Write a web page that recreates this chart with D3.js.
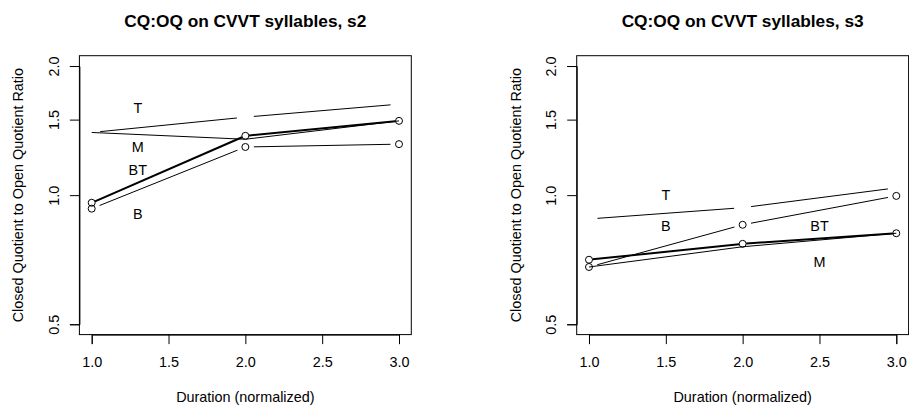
<!DOCTYPE html>
<html>
<head>
<meta charset="utf-8">
<script src="https://cdn.jsdelivr.net/npm/d3@7"></script>
<style>
  html, body { margin: 0; padding: 0; background: #fff; }
  svg { display: block; font-family: "Liberation Sans", Arial, Helvetica, sans-serif; }
</style>
</head>
<body>
<svg id="chart" width="909" height="405"></svg>
<script>
// durations on the x axis
const durations = [1, 2, 3];
const seriesNames = ["T", "M", "BT", "B"];

// CQ:OQ ratios, speaker s2
const s2T = [1.40, 1.52, 1.63];
const s2M = [1.40, 1.35, 1.49];
const s2BT = [0.96, 1.375, 1.49];
const s2B = [0.93, 1.295, 1.315];

// CQ:OQ ratios, speaker s3
const s3T = [0.88, 0.935, 1.04];
const s3M = [0.68, 0.758, 0.815];
const s3BT = [0.707, 0.77, 0.815];
const s3B = [0.68, 0.853, 0.996];

// where the series labels were placed (data coords, order = seriesNames)
const s2LabelX = [1.3, 1.3, 1.3, 1.3];
const s2LabelY = [1.595, 1.298, 1.145, 0.903];
const s3LabelX = [1.5, 2.5, 2.5, 1.5];
const s3LabelY = [1.0, 0.70, 0.848, 0.848];

const xTicks = [1, 1.5, 2, 2.5, 3];
const yTicks = [0.5, 1, 1.5, 2];
const xDomain = [1, 3];
const yDomain = [0.5, 2];

const titles = ["CQ:OQ on CVVT syllables, s2", "CQ:OQ on CVVT syllables, s3"];
const xTitle = "Duration (normalized)";
const yTitle = "Closed Quotient to Open Quotient Ratio";

// how each series was drawn (R: type "c", "l", "b")
const style = {
  T:  { gap: 8.5, points: false, width: 1 },
  M:  { gap: 0,   points: false, width: 1 },
  BT: { gap: 3.6, points: true,  width: 2 },
  B:  { gap: 8.5, points: true,  width: 1 }
};

const panels = [
  { left: 79.4, right: 411.3, title: titles[0],
    values: { T: s2T, M: s2M, BT: s2BT, B: s2B }, labelX: s2LabelX, labelY: s2LabelY },
  { left: 576.7, right: 908.6, title: titles[1],
    values: { T: s3T, M: s3M, BT: s3BT, B: s3B }, labelX: s3LabelX, labelY: s3LabelY }
];

const plotTop = 55.7, plotBottom = 334.6;
const fontSize = 14.4;
const svg = d3.select("#chart");

function drawPanel(p) {
  const g = svg.append("g");

  // R style: 4% padding on each side of the data range
  const w = p.right - p.left;
  const pad = w * 0.04 / 1.08;
  const x = d3.scaleLinear().domain(xDomain).range([p.left + pad, p.right - pad]);

  const h = plotBottom - plotTop;
  const padY = h * 0.04 / 1.08;
  const y = d3.scaleLog().domain(yDomain).range([plotBottom - padY, plotTop + padY]);

  // series lines
  seriesNames.forEach(function(name) {
    const vals = p.values[name];
    const st = style[name];
    const pts = durations.map((d, i) => [x(d), y(vals[i])]);
    for (let i = 0; i < pts.length - 1; i++) {
      const a = pts[i], b = pts[i + 1];
      const dx = b[0] - a[0], dy = b[1] - a[1];
      const len = Math.sqrt(dx * dx + dy * dy);
      const ux = dx / len, uy = dy / len;
      g.append("line")
        .attr("x1", a[0] + ux * st.gap)
        .attr("y1", a[1] + uy * st.gap)
        .attr("x2", b[0] - ux * st.gap)
        .attr("y2", b[1] - uy * st.gap)
        .attr("stroke", "#000")
        .attr("stroke-width", st.width);
    }
    if (st.points) {
      g.selectAll(null)
        .data(pts)
        .join("circle")
        .attr("cx", d => d[0])
        .attr("cy", d => d[1])
        .attr("r", 3.5)
        .attr("fill", "none")
        .attr("stroke", "#000")
        .attr("stroke-width", 1);
    }
  });

  // series labels
  g.selectAll(null)
    .data(seriesNames)
    .join("text")
    .attr("x", (d, i) => x(p.labelX[i]))
    .attr("y", (d, i) => y(p.labelY[i]))
    .attr("dy", "0.36em")
    .attr("text-anchor", "middle")
    .attr("font-size", fontSize)
    .text(d => d);

  // box
  g.append("rect")
    .attr("x", p.left)
    .attr("y", plotTop)
    .attr("width", w)
    .attr("height", h)
    .attr("fill", "none")
    .attr("stroke", "#000")
    .attr("stroke-width", 1);

  // x axis
  const xAxis = g.append("g")
    .attr("transform", `translate(0,${plotBottom})`)
    .call(d3.axisBottom(x).tickValues(xTicks).tickSizeOuter(0).tickSize(9.5)
      .tickFormat(d3.format(".1f")));
  xAxis.select(".domain").attr("stroke", "#000");
  xAxis.selectAll(".tick text")
    .attr("font-size", fontSize)
    .attr("fill", "#000")
    .attr("y", 27.4)
    .attr("dy", "0.36em");

  // y axis, labels turned parallel to the axis
  const yAxis = g.append("g")
    .attr("transform", `translate(${p.left},0)`)
    .call(d3.axisLeft(y).tickValues(yTicks).tickSizeOuter(0).tickSize(9.5)
      .tickFormat(d3.format(".1f")));
  yAxis.select(".domain").attr("stroke", "#000");
  yAxis.selectAll(".tick text")
    .attr("font-size", fontSize)
    .attr("fill", "#000")
    .attr("x", null)
    .attr("dy", "0.36em")
    .attr("text-anchor", "middle")
    .attr("transform", "translate(-25.4,0) rotate(-90)");

  // titles
  svg.append("text")
    .attr("x", (p.left + p.right) / 2)
    .attr("y", 27.2)
    .attr("text-anchor", "middle")
    .attr("font-size", 17.3)
    .attr("font-weight", "bold")
    .text(p.title);

  svg.append("text")
    .attr("x", (p.left + p.right) / 2)
    .attr("y", 397)
    .attr("dy", "0.36em")
    .attr("text-anchor", "middle")
    .attr("font-size", fontSize)
    .text(xTitle);

  svg.append("text")
    .attr("transform", `translate(${p.left - 61.3},${(plotTop + plotBottom) / 2}) rotate(-90)`)
    .attr("dy", "0.36em")
    .attr("text-anchor", "middle")
    .attr("font-size", fontSize)
    .text(yTitle);
}

panels.forEach(drawPanel);
</script>
</body>
</html>
